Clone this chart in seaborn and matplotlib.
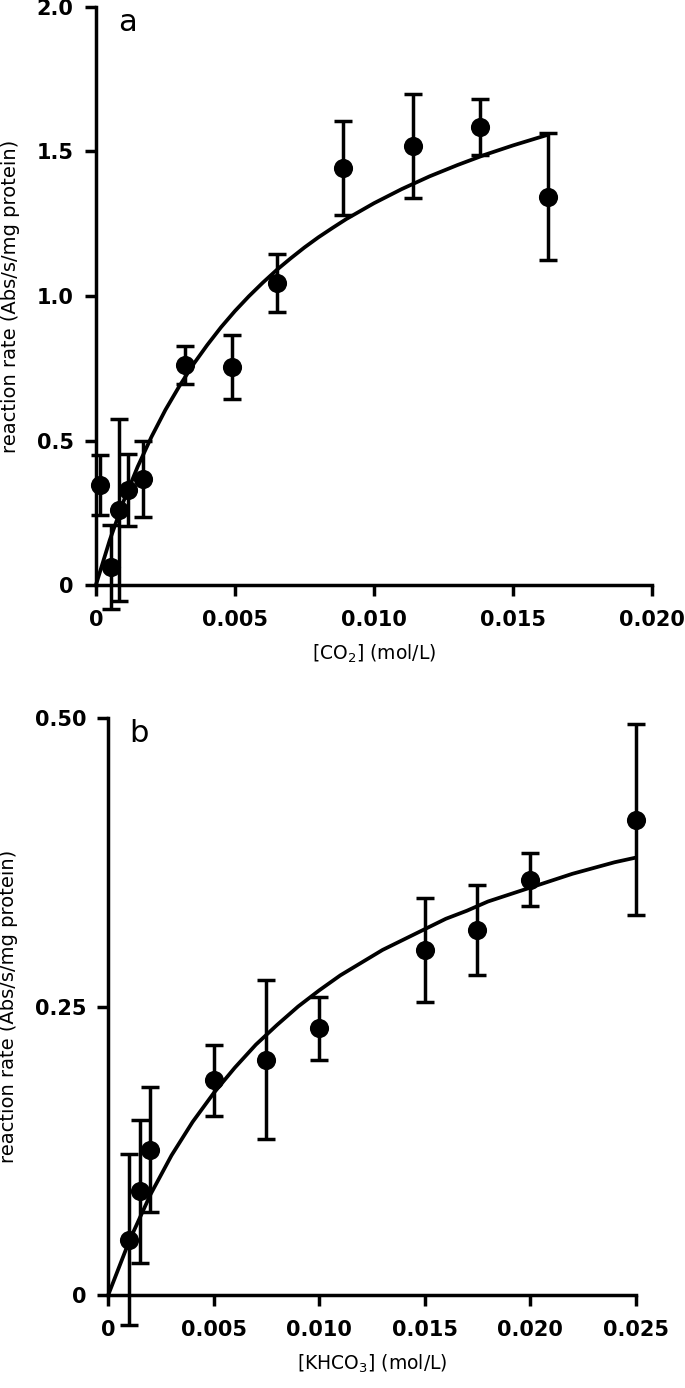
import matplotlib
matplotlib.use("Agg")
import matplotlib.pyplot as plt
import seaborn as sns

# panel a - CO2
co2_x = [0.00015, 0.00054, 0.00083, 0.00115, 0.00169, 0.0032, 0.0049, 0.0065, 0.0089, 0.0114, 0.0138, 0.01626]
co2_rate = [0.346, 0.062, 0.260, 0.330, 0.367, 0.761, 0.754, 1.045, 1.443, 1.519, 1.585, 1.343]
co2_err = [0.105, 0.145, 0.315, 0.125, 0.130, 0.065, 0.110, 0.100, 0.163, 0.180, 0.097, 0.220]
# fitted curve
co2_fit_x = [0, 0.0005, 0.001, 0.0015, 0.002, 0.0025, 0.003, 0.0035, 0.004, 0.0045, 0.005,
             0.0055, 0.006, 0.0065, 0.007, 0.0075, 0.008, 0.0085, 0.009,
             0.010, 0.011, 0.012, 0.013, 0.014, 0.015, 0.01626]
co2_fit_y = [0, 0.156, 0.291, 0.409, 0.513, 0.606, 0.688, 0.763, 0.830, 0.892, 0.948,
             0.999, 1.046, 1.090, 1.130, 1.168, 1.203, 1.235, 1.266,
             1.321, 1.370, 1.414, 1.453, 1.489, 1.521, 1.558]

# panel b - KHCO3
khco3_x = [0.001, 0.0015, 0.002, 0.005, 0.0075, 0.010, 0.015, 0.0175, 0.020, 0.025]
khco3_rate = [0.048, 0.090, 0.126, 0.186, 0.204, 0.231, 0.299, 0.316, 0.360, 0.412]
khco3_err = [0.074, 0.062, 0.054, 0.031, 0.069, 0.027, 0.045, 0.039, 0.023, 0.083]
khco3_fit_x = [0, 0.001, 0.002, 0.003, 0.004, 0.005, 0.006, 0.007, 0.008, 0.009, 0.010,
               0.011, 0.012, 0.013, 0.014, 0.015, 0.016, 0.017, 0.018, 0.019, 0.020,
               0.021, 0.022, 0.023, 0.024, 0.025]
khco3_fit_y = [0, 0.047, 0.087, 0.121, 0.150, 0.175, 0.197, 0.217, 0.234, 0.250, 0.264,
               0.277, 0.288, 0.299, 0.308, 0.317, 0.326, 0.333, 0.341, 0.347, 0.353,
               0.359, 0.365, 0.370, 0.375, 0.379]

sns.set_theme(style="ticks")
plt.rcParams["font.family"] = ["DejaVu Sans"]
plt.rcParams["text.color"] = "black"
plt.rcParams["axes.labelcolor"] = "black"

fig = plt.figure(figsize=(6.85, 13.88), dpi=100)
ax_a = fig.add_axes([0.140, 0.5785, 0.812, 0.4165])
ax_b = fig.add_axes([0.158, 0.067, 0.770, 0.4157])

panels = [
    (ax_a, co2_x, co2_rate, co2_err, co2_fit_x, co2_fit_y,
     (0, 0.020), [0, 0.005, 0.010, 0.015, 0.020], ["0", "0.005", "0.010", "0.015", "0.020"],
     (0, 2.0), [0, 0.5, 1.0, 1.5, 2.0], ["0", "0.5", "1.0", "1.5", "2.0"],
     "[CO$_2$] (mol/L)", "a"),
    (ax_b, khco3_x, khco3_rate, khco3_err, khco3_fit_x, khco3_fit_y,
     (0, 0.025), [0, 0.005, 0.010, 0.015, 0.020, 0.025],
     ["0", "0.005", "0.010", "0.015", "0.020", "0.025"],
     (0, 0.50), [0, 0.25, 0.50], ["0", "0.25", "0.50"],
     "[KHCO$_3$] (mol/L)", "b"),
]

for (ax, x, y, err, fx, fy, xlim, xt, xtl, ylim, yt, ytl, xlabel, letter) in panels:
    ax.errorbar(x, y, yerr=err, fmt="none", ecolor="black", elinewidth=2.5,
                capsize=6.5, capthick=2.5, clip_on=False, zorder=3)
    sns.scatterplot(x=x, y=y, ax=ax, color="black", s=190, edgecolor="black",
                    linewidth=0, zorder=4, clip_on=False)
    sns.lineplot(x=fx, y=fy, ax=ax, color="black", linewidth=2.7, zorder=2,
                 clip_on=False)
    ax.set_xlim(*xlim)
    ax.set_ylim(*ylim)
    ax.set_xticks(xt)
    ax.set_xticklabels(xtl)
    ax.set_yticks(yt)
    ax.set_yticklabels(ytl)
    sns.despine(ax=ax)
    for s in ["left", "bottom"]:
        ax.spines[s].set_linewidth(2.5)
        ax.spines[s].set_color("black")
    ax.tick_params(axis="both", width=2.5, length=8, direction="out",
                   labelsize=15, colors="black")
    ax.tick_params(axis="x", pad=10)
    ax.tick_params(axis="y", pad=8)
    for lab in ax.get_xticklabels() + ax.get_yticklabels():
        lab.set_fontweight("bold")
    ax.set_xlabel(xlabel, fontsize=13.5, labelpad=9)
    ax.set_ylabel("reaction rate (Abs/s/mg protein)", fontsize=14, labelpad=12)
    ax.text(0.04, 0.998, letter, transform=ax.transAxes, fontsize=22,
            va="top", ha="left", color="black")

fig.savefig("out.png", dpi=100)
